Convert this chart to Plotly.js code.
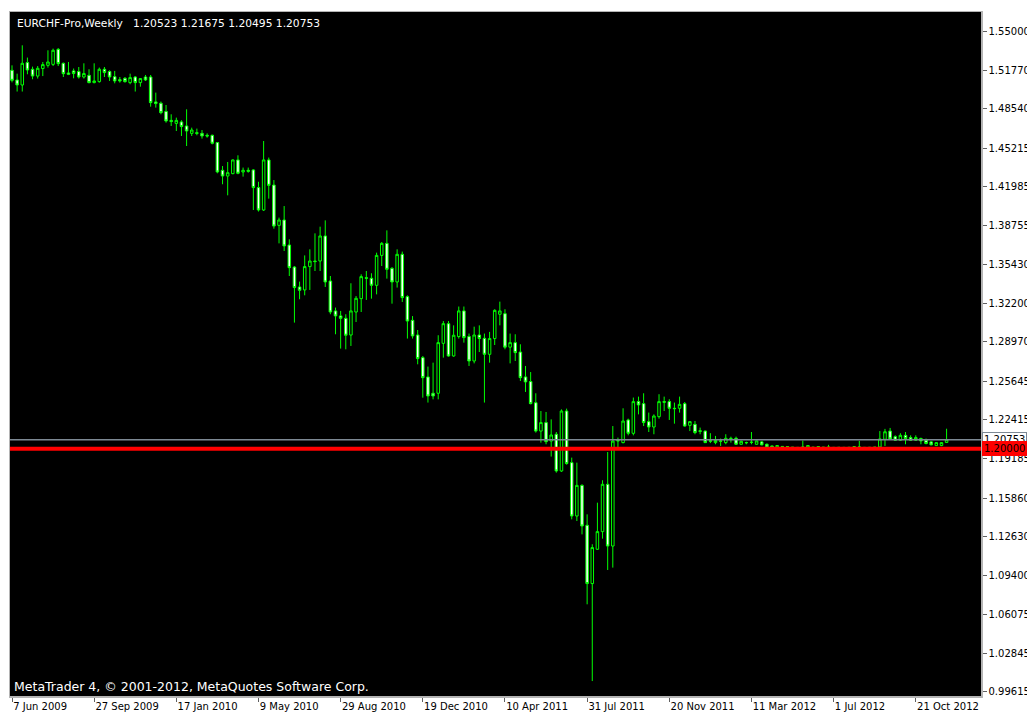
<!DOCTYPE html>
<html>
<head>
<meta charset="utf-8">
<script src="https://cdn.plot.ly/plotly-3.0.1.min.js"></script>
<style>
  html, body { margin: 0; padding: 0; background: #ffffff; }
  #chart { width: 1027px; height: 713px; }
</style>
</head>
<body>
<div id="chart"></div>
<script>
// ---- Data: EURCHF-Pro, weekly bars (first bar = week of 7 Jun 2009) ----
const firstWeek = '2009-06-07';

const open = [
1.5175,1.5094,1.5052,1.5240,1.5184,1.5127,1.5190,1.5217,1.5225,1.5351,
1.5234,1.5153,1.5170,1.5165,1.5119,1.5133,1.5072,1.5080,1.5184,1.5165,
1.5122,1.5097,1.5108,1.5072,1.5119,1.5072,1.5119,1.5119,1.4910,1.4899,
1.4830,1.4755,1.4730,1.4742,1.4708,1.4646,1.4652,1.4646,1.4630,1.4630,
1.4569,1.4336,1.4288,1.4308,1.4423,1.4322,1.4336,1.4339,1.4191,1.4003,
1.4423,1.4212,1.3874,1.3919,1.3709,1.3524,1.3357,1.3332,1.3528,1.3575,
1.3575,1.3785,1.3407,1.3156,1.3114,1.3094,1.2954,1.3147,1.3259,1.3435,
1.3430,1.3371,1.3622,1.3723,1.3513,1.3399,1.3631,1.3276,1.3077,1.2954,
1.2764,1.2602,1.2465,1.2465,1.2884,1.3049,1.2778,1.2941,1.3156,1.2941,
1.2736,1.2954,1.2926,1.2792,1.2924,1.3128,1.3133,1.2852,1.2890,1.2811,
1.2602,1.2563,1.2386,1.2148,1.2219,1.2064,1.2121,1.1813,1.2316,1.1883,
1.1435,1.1692,1.1357,1.0868,1.1156,1.1304,1.1701,1.1183,1.2064,1.2051,
1.2241,1.2129,1.2395,1.2378,1.2227,1.2182,1.2269,1.2395,1.2395,1.2339,
1.2339,1.2378,1.2196,1.2204,1.2150,1.2148,1.2067,1.2051,1.2065,1.2051,
1.2087,1.2087,1.2037,1.2052,1.2055,1.2037,1.2057,1.2037,1.2023,1.2015,
1.2019,1.2018,1.2012,1.2011,1.2013,1.2014,1.2012,1.2017,1.2012,1.2012,
1.2011,1.2010,1.2011,1.2010,1.2013,1.2012,1.2011,1.2010,1.2011,1.2014,
1.2079,1.2148,1.2101,1.2071,1.2112,1.2093,1.2071,1.2085,1.2071,1.2057,
1.2026,1.2026,1.20523
];
const high = [
1.5217,1.5147,1.5385,1.5282,1.5206,1.5211,1.5245,1.5343,1.5357,1.5362,
1.5240,1.5245,1.5190,1.5203,1.5234,1.5184,1.5234,1.5198,1.5203,1.5175,
1.5170,1.5119,1.5119,1.5147,1.5127,1.5110,1.5136,1.5136,1.4988,1.4913,
1.4884,1.4806,1.4778,1.4756,1.4848,1.4694,1.4686,1.4674,1.4646,1.4635,
1.4572,1.4372,1.4406,1.4428,1.4462,1.4359,1.4359,1.4345,1.4240,1.4582,
1.4443,1.4254,1.3939,1.4036,1.3757,1.3533,1.3402,1.3622,1.3673,1.3807,
1.3863,1.3916,1.3449,1.3184,1.3156,1.3128,1.3388,1.3281,1.3463,1.3491,
1.3472,1.3645,1.3734,1.3832,1.3524,1.3673,1.3654,1.3287,1.3113,1.2996,
1.2778,1.2689,1.2722,1.2952,1.3071,1.3071,1.3035,1.3193,1.3193,1.2966,
1.3024,1.3035,1.2966,1.2980,1.3170,1.3234,1.3170,1.2966,1.2960,1.2876,
1.2694,1.2643,1.2465,1.2316,1.2308,1.2246,1.2140,1.2330,1.2336,1.1925,
1.1883,1.1701,1.1449,1.1198,1.1547,1.1735,1.1972,1.2190,1.2093,1.2339,
1.2252,1.2429,1.2437,1.2465,1.2303,1.2288,1.2457,1.2437,1.2415,1.2387,
1.2437,1.2392,1.2232,1.2232,1.2177,1.2152,1.2130,1.2107,1.2085,1.2121,
1.2101,1.2101,1.2068,1.2059,1.2140,1.2068,1.2065,1.2043,1.2026,1.2029,
1.2021,1.2021,1.2014,1.2013,1.2068,1.2028,1.2014,1.2020,1.2013,1.2032,
1.2013,1.2012,1.2013,1.2012,1.2020,1.2065,1.2013,1.2012,1.2013,1.2148,
1.2166,1.2174,1.2112,1.2130,1.2140,1.2112,1.2112,1.2093,1.2085,1.2065,
1.2054,1.2054,1.21675
];
const low = [
1.5074,1.4997,1.4997,1.5142,1.5100,1.5106,1.5127,1.5198,1.5211,1.5211,
1.5119,1.5135,1.5108,1.5106,1.5106,1.5066,1.5066,1.5072,1.5119,1.5086,
1.5066,1.5072,1.5072,1.5058,1.4997,1.5038,1.5086,1.4870,1.4862,1.4806,
1.4736,1.4708,1.4666,1.4624,1.4540,1.4624,1.4630,1.4602,1.4610,1.4554,
1.4311,1.4219,1.4126,1.4303,1.4303,1.4283,1.4316,1.4003,1.3990,1.3995,
1.4098,1.3846,1.3723,1.3659,1.3449,1.3058,1.3254,1.3287,1.3332,1.3491,
1.3491,1.3357,1.3128,1.2960,1.2840,1.2834,1.2862,1.3063,1.3147,1.3248,
1.3259,1.3295,1.3533,1.3427,1.3217,1.3352,1.3231,1.2924,1.2924,1.2708,
1.2428,1.2387,1.2414,1.2414,1.2764,1.2772,1.2772,1.2924,1.2890,1.2694,
1.2716,1.2811,1.2387,1.2722,1.2870,1.3035,1.2834,1.2716,1.2736,1.2568,
1.2476,1.2372,1.2135,1.2051,1.2037,1.1934,1.1799,1.1805,1.1866,1.1407,
1.1393,1.1281,1.0694,1.0050,1.1150,1.1245,1.0982,1.1002,1.2009,1.2045,
1.2112,1.2112,1.2288,1.2190,1.2140,1.2121,1.2252,1.2316,1.2241,1.2210,
1.2303,1.2185,1.2148,1.2121,1.2121,1.2047,1.2047,1.2037,1.2023,1.2037,
1.2051,1.2034,1.2034,1.2037,1.2037,1.2034,1.2029,1.2009,1.2010,1.2010,
1.2010,1.2010,1.2004,1.2005,1.2005,1.2006,1.2006,1.2008,1.2007,1.2007,
1.2007,1.2006,1.2007,1.2006,1.2008,1.2008,1.2007,1.2006,1.2007,1.2010,
1.2023,1.2079,1.2065,1.2065,1.2037,1.2065,1.2065,1.2037,1.2037,1.2029,
1.2023,1.2021,1.20495
];
const close = [
1.5091,1.5052,1.5234,1.5178,1.5127,1.5192,1.5223,1.5245,1.5343,1.5231,
1.5147,1.5142,1.5148,1.5119,1.5148,1.5072,1.5086,1.5184,1.5156,1.5119,
1.5086,1.5086,1.5080,1.5114,1.5072,1.5106,1.5094,1.4904,1.4896,1.4820,
1.4750,1.4745,1.4755,1.4703,1.4666,1.4674,1.4646,1.4624,1.4624,1.4563,
1.4322,1.4288,1.4316,1.4423,1.4311,1.4336,1.4328,1.4191,1.4003,1.4423,
1.4210,1.3868,1.3919,1.3701,1.3519,1.3352,1.3329,1.3528,1.3575,1.3570,
1.3785,1.3399,1.3147,1.3114,1.3094,1.2952,1.3156,1.3262,1.3444,1.3430,
1.3371,1.3622,1.3723,1.3505,1.3399,1.3631,1.3268,1.3071,1.2946,1.2756,
1.2596,1.2442,1.2442,1.2890,1.3049,1.2778,1.2952,1.3156,1.2932,1.2736,
1.2954,1.2924,1.2792,1.2924,1.3161,1.3156,1.2852,1.2890,1.2806,1.2596,
1.2560,1.2378,1.2148,1.2219,1.2059,1.2115,1.1813,1.2316,1.1875,1.1435,
1.1692,1.1351,1.0868,1.1170,1.1304,1.1701,1.1183,1.2064,1.2070,1.2232,
1.2129,1.2395,1.2367,1.2219,1.2182,1.2274,1.2395,1.2390,1.2339,1.2336,
1.2372,1.2190,1.2227,1.2135,1.2146,1.2051,1.2063,1.2069,1.2063,1.2087,
1.2085,1.2037,1.2062,1.2050,1.2053,1.2065,1.2032,1.2015,1.2015,1.2026,
1.2017,1.2017,1.2011,1.2010,1.2012,1.2026,1.2011,1.2015,1.2011,1.2012,
1.2010,1.2011,1.2010,1.2011,1.2016,1.2014,1.2010,1.2011,1.2012,1.2082,
1.2142,1.2082,1.2071,1.2112,1.2085,1.2071,1.2093,1.2065,1.2043,1.2032,
1.2051,1.2051,1.20753
];

// Axis labels
const tickDates  = ['2009-06-07','2009-09-27','2010-01-17','2010-05-09','2010-08-29','2010-12-19',
                    '2011-04-10','2011-07-31','2011-11-20','2012-03-11','2012-07-01','2012-10-21'];
const tickLabels = ['7 Jun 2009','27 Sep 2009','17 Jan 2010','9 May 2010','29 Aug 2010','19 Dec 2010',
                    '10 Apr 2011','31 Jul 2011','20 Nov 2011','11 Mar 2012','1 Jul 2012','21 Oct 2012'];
const priceTicks = [1.55000,1.51770,1.48540,1.45215,1.41985,1.38755,1.35430,1.32200,1.28970,
                    1.25645,1.22415,1.19185,1.15860,1.12630,1.09400,1.06075,1.02845,0.99615];

// Horizontal levels
const floorLevel = 1.20000;
const bidLevel   = 1.20753;

const symbolTitle = 'EURCHF-Pro,Weekly\u00a0\u00a0 1.20523 1.21675 1.20495 1.20753';
const copyright   = 'MetaTrader 4, \u00a9 2001-2012, MetaQuotes Software Corp.';

// ---- Weekly dates for each bar ----
const DAY = 86400000;
const t0 = Date.parse(firstWeek + 'T00:00:00Z');
const weeks = open.map((_, i) => new Date(t0 + i * 7 * DAY).toISOString().slice(0, 10));

const FONT = 'DejaVu Sans, Verdana, sans-serif';
const GREEN = '#00ff00';

const trace = {
  type: 'candlestick',
  x: weeks, open: open, high: high, low: low, close: close,
  increasing: { line: { color: GREEN, width: 1 }, fillcolor: '#000000' },
  decreasing: { line: { color: GREEN, width: 1 }, fillcolor: '#ffffff' },
  whiskerwidth: 0,
  hoverinfo: 'x+y',
  showlegend: false
};

const xStart = new Date(t0 - 0.39 * 7 * DAY).toISOString();
const xEnd   = new Date(t0 + 188.7 * 7 * DAY).toISOString();

const layout = {
  width: 1027, height: 713,
  margin: { l: 10, r: 46, t: 12, b: 17, pad: 0 },
  paper_bgcolor: '#ffffff',
  plot_bgcolor: '#000000',
  showlegend: false,
  font: { family: FONT, size: 10, color: '#000000' },
  xaxis: {
    type: 'date',
    range: [xStart, xEnd],
    rangeslider: { visible: false },
    showgrid: false, zeroline: false,
    tickmode: 'array', tickvals: tickDates, ticktext: tickLabels,
    ticks: 'outside', ticklen: 4, tickcolor: '#606060', tickwidth: 1,
    ticklabelposition: 'outside right',
    tickfont: { family: FONT, size: 10, color: '#000000' },
    showline: true, mirror: true, linecolor: '#b4b4b4', linewidth: 1.5,
    fixedrange: true
  },
  yaxis: {
    side: 'right',
    range: [0.99246, 1.56645],
    showgrid: false, zeroline: false,
    tickmode: 'array', tickvals: priceTicks,
    ticktext: priceTicks.map(v => v.toFixed(5)),
    ticks: 'outside', ticklen: 4, tickcolor: '#606060', tickwidth: 1,
    tickfont: { family: FONT, size: 10, color: '#000000' },
    showline: true, mirror: true, linecolor: '#b4b4b4', linewidth: 1.5,
    fixedrange: true
  },
  shapes: [
    { type: 'line', xref: 'paper', x0: 0, x1: 1, yref: 'y', y0: bidLevel, y1: bidLevel,
      line: { color: '#7c8893', width: 1.5 }, layer: 'above' },
    { type: 'line', xref: 'paper', x0: 0, x1: 1, yref: 'y', y0: floorLevel, y1: floorLevel,
      line: { color: '#ff0000', width: 4 }, layer: 'above' }
  ],
  annotations: [
    { xref: 'paper', yref: 'paper', x: 0, y: 1, xanchor: 'left', yanchor: 'top',
      xshift: 5, yshift: -3, showarrow: false, text: symbolTitle,
      font: { family: FONT, size: 10.7, color: '#ffffff' } },
    { xref: 'paper', yref: 'paper', x: 0, y: 0, xanchor: 'left', yanchor: 'bottom',
      xshift: 2, yshift: 0, showarrow: false, text: copyright,
      font: { family: FONT, size: 12.5, color: '#ffffff' } },
    { xref: 'paper', yref: 'y', x: 1, y: bidLevel, xanchor: 'left', yanchor: 'middle',
      xshift: 1, showarrow: false, text: bidLevel.toFixed(5),
      bgcolor: '#ffffff', bordercolor: '#7c8893', borderwidth: 1, borderpad: 1,
      font: { family: FONT, size: 10, color: '#000000' } },
    { xref: 'paper', yref: 'y', x: 1, y: floorLevel, xanchor: 'left', yanchor: 'middle',
      xshift: 1, showarrow: false, text: floorLevel.toFixed(5),
      bgcolor: '#ff0000', bordercolor: '#ff0000', borderwidth: 1, borderpad: 1,
      font: { family: FONT, size: 10, color: '#000000' } }
  ]
};

Plotly.newPlot('chart', [trace], layout, { displayModeBar: false, staticPlot: true });
</script>
</body>
</html>
